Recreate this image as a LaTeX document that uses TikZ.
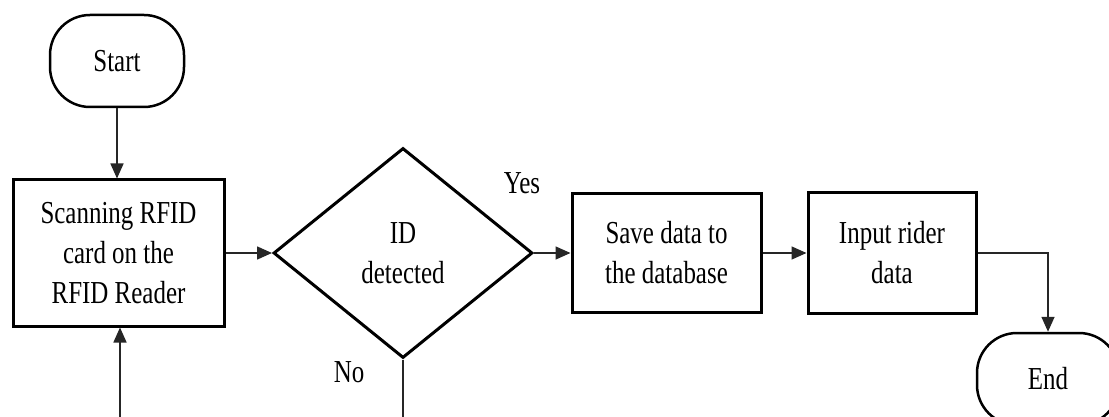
\documentclass[tikz,border=0pt]{standalone}
\usepackage{fontspec}
\setmainfont[FakeStretch=0.78]{Liberation Serif}
\usetikzlibrary{arrows.meta,shapes.geometric}
\tikzset{
  proc/.style={draw, line width=3pt, rectangle, align=center, inner sep=0pt, font=\fontsize{32}{40}\selectfont},
  term/.style={draw, line width=2.5pt, rectangle, rounded corners=40pt, inner sep=0pt, font=\fontsize{32}{40}\selectfont},
  decis/.style={draw, line width=3pt, diamond, inner sep=0pt, align=center, font=\fontsize{32}{40}\selectfont},
  conn/.style={draw=black!85, line width=1.6pt, -{Triangle[length=15pt,width=13pt]}},
  plain/.style={draw=black!85, line width=1.6pt},
  lbl/.style={font=\fontsize{32}{40}\selectfont, inner sep=0pt}
}
\begin{document}
\begin{tikzpicture}[x=1pt,y=-1pt]
\useasboundingbox (0,0) rectangle (1109,417);
\clip (0,0) rectangle (1109,417);
\node[term, minimum width=134pt, minimum height=92pt] (start) at (117,61) {Start};
\node[proc, minimum width=211pt, minimum height=146pt] (scan) at (118.5,253) {Scanning RFID\\card on the\\RFID Reader};
\node[decis, minimum width=259pt, minimum height=210pt] (dia) at (403,253) {ID\\detected};
\node[proc, minimum width=189pt, minimum height=118pt] (save) at (666.5,253) {Save data to\\the database};
\node[proc, minimum width=168pt, minimum height=120pt] (input) at (892,253) {Input rider\\data};
\node[term, minimum width=142pt, minimum height=92pt] (end) at (1048,379) {End};
\node[lbl] (yes) at (522,183) {Yes};
\node[lbl] (no) at (349,372) {No};
\coordinate (loopin) at (120,430);
\coordinate (noout) at (403,430);
\draw[conn] (start.south) -- (start.south |- scan.north);
\draw[conn] (loopin) -- (loopin |- scan.south);
\draw[conn] (scan.east) -- (dia.west);
\draw[conn] (dia.east) -- (save.west);
\draw[conn] (save.east) -- (input.west);
\draw[conn] (input.east) -| (end.north);
\draw[plain] (dia.south) -- (noout);
\end{tikzpicture}
\end{document}
